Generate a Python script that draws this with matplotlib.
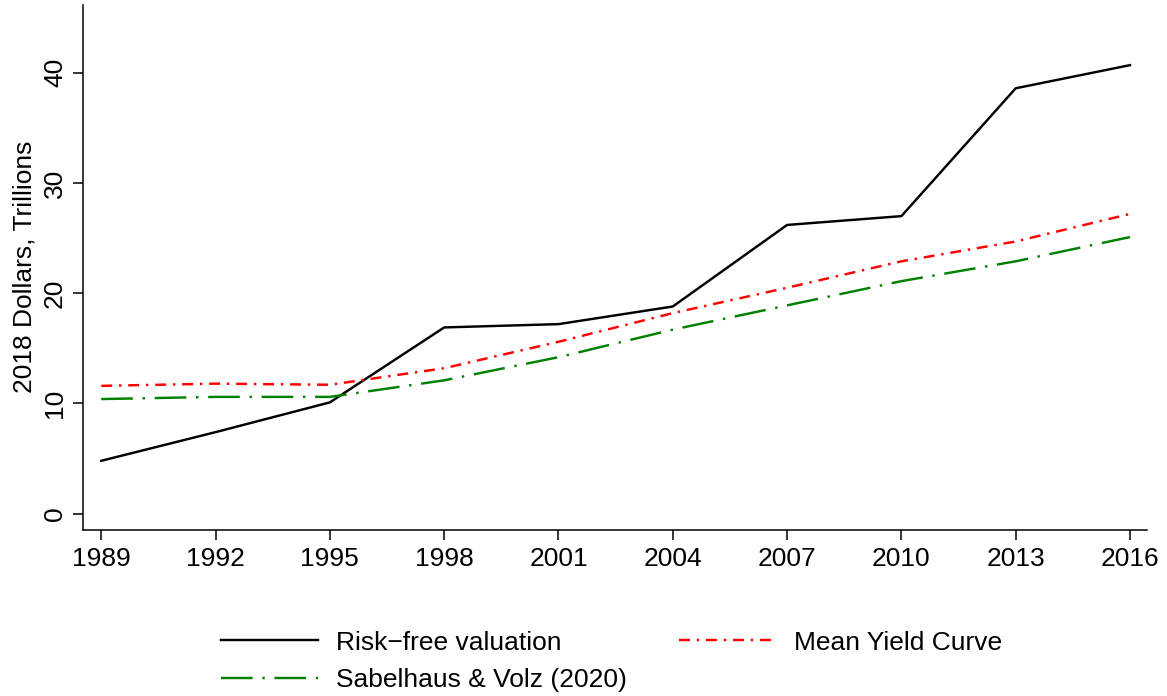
import numpy as np
import matplotlib
matplotlib.use("Agg")
import matplotlib.pyplot as plt

plt.rcParams['font.family'] = ['Liberation Sans', 'DejaVu Sans']

# survey years and valuations (2018 dollars, trillions)
years = [1989, 1992, 1995, 1998, 2001, 2004, 2007, 2010, 2013, 2016]
risk_free = [4.8, 7.4, 10.1, 16.9, 17.2, 18.8, 26.2, 27.0, 38.6, 40.7]
mean_yield = [11.6, 11.8, 11.7, 13.2, 15.6, 18.2, 20.5, 22.9, 24.7, 27.2]
sabelhaus = [10.4, 10.6, 10.6, 12.1, 14.2, 16.7, 18.9, 21.1, 22.9, 25.1]
yticks = [0, 10, 20, 30, 40]

fig = plt.figure(figsize=(11.67, 6.96), dpi=100)
ax = fig.add_axes([0.0711, 0.2385, 0.9119, 0.755])

l1, = ax.plot(years, risk_free, color='black', lw=1.75, label='Risk\u2212free valuation')
l3, = ax.plot(years, mean_yield, color='red', lw=1.75, dashes=(4.5, 2.8, 1, 2.8),
              label='Mean Yield Curve')
l2, = ax.plot(years, sabelhaus, color='green', lw=1.75, dashes=(13, 4, 1, 4),
              label='Sabelhaus & Volz (2020)')

ax.set_xlim(1988.52, 2016.45)
ax.set_ylim(-1.48, 46.2)
ax.set_xticks(years)
ax.set_yticks(yticks)
ax.set_yticklabels([str(v) for v in yticks], rotation=90, va='center')
ax.tick_params(labelsize=19, length=7.5, width=1.1, direction='out', color='black')
ax.tick_params(axis='x', pad=4.5)
ax.tick_params(axis='y', pad=4)
ax.set_ylabel('2018 Dollars, Trillions', fontsize=19, labelpad=5)

for s in ['top', 'right']:
    ax.spines[s].set_visible(False)
for s in ['left', 'bottom']:
    ax.spines[s].set_linewidth(1.1)

fig.legend(handles=[l1, l2, l3], ncol=2, frameon=False, fontsize=19,
           loc='center', bbox_to_anchor=(0.524, 0.05), handlelength=3.7,
           columnspacing=2.0, handletextpad=0.65, labelspacing=0.5)

fig.savefig('out.png', dpi=100)
